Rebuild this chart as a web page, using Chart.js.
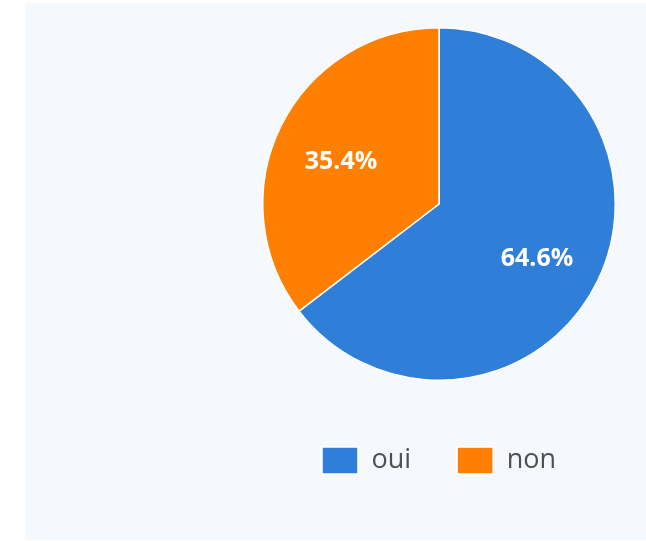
<!DOCTYPE html>
<html>
<head>
<meta charset="utf-8">
<script src="https://cdn.jsdelivr.net/npm/chart.js@4.4.1/dist/chart.umd.min.js"></script>
<style>
  body { margin: 0; background: #ffffff; }
  #panel { position: absolute; left: 25px; top: 3px; width: 621px; height: 537px; background: #f5f8fc; }
  #box { position: absolute; left: 214px; top: 4px; width: 400px; height: 477px; }
</style>
</head>
<body>
<div id="panel"><div id="box"><canvas id="pieChart"></canvas></div></div>
<script>
  const labels = ["oui", "non"];
  const values = [64.6, 35.4];
  const colors = ["#2f7ed8", "#ff7f00"];

  // percentages written inside each slice
  const sliceLabels = {
    id: "sliceLabels",
    afterDatasetsDraw(chart) {
      const ctx = chart.ctx;
      const meta = chart.getDatasetMeta(0);
      const total = values.reduce((a, b) => a + b, 0);
      ctx.save();
      ctx.font = "bold 25px 'Open Sans'";
      ctx.fillStyle = "#ffffff";
      ctx.textAlign = "center";
      ctx.textBaseline = "middle";
      meta.data.forEach((arc, i) => {
        const p = arc.getProps(["x", "y", "startAngle", "endAngle", "outerRadius"], true);
        const mid = (p.startAngle + p.endAngle) / 2;
        const r = p.outerRadius * 0.62;
        const pct = (values[i] / total * 100).toFixed(1) + "%";
        ctx.fillText(pct, p.x + Math.cos(mid) * r, p.y + Math.sin(mid) * r + 6);
      });
      ctx.restore();
    }
  };

  Chart.defaults.font.family = "'Open Sans'";

  new Chart(document.getElementById("pieChart").getContext("2d"), {
    type: "pie",
    data: {
      labels: labels,
      datasets: [{
        data: values,
        backgroundColor: colors,
        borderColor: "#ffffff",
        borderWidth: 1.5,
      }],
    },
    options: {
      responsive: true,
      maintainAspectRatio: false,
      animation: false,
      layout: { padding: { left: 23, right: 23, top: 0, bottom: 0 } },
      plugins: {
        tooltip: { enabled: false },
        legend: {
          position: "bottom",
          labels: {
            boxWidth: 36,
            padding: 46,
            color: "#505050",
            font: { size: 27 },
          },
        },
      },
    },
    plugins: [sliceLabels],
  });
</script>
</body>
</html>
